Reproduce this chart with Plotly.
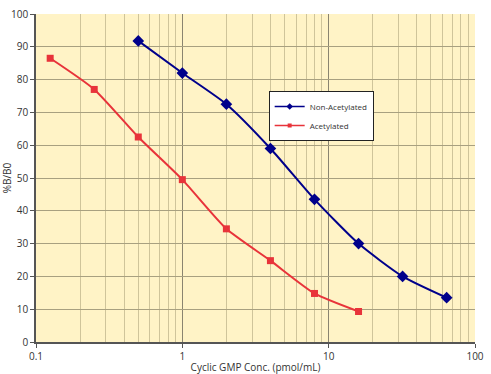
import plotly.graph_objects as go

non_x = [0.5, 1, 2, 4, 8, 16, 32, 64]
non_y = [91.8, 82.0, 72.5, 59.0, 43.5, 30.0, 20.0, 13.5]
ac_x = [0.125, 0.25, 0.5, 1, 2, 4, 8, 16]
ac_y = [86.5, 77.0, 62.5, 49.5, 34.5, 24.8, 14.8, 9.3]
x_ticks = [0.1, 1, 10, 100]
x_tick_labels = ["0.1", "1", "10", "100"]
y_ticks = [0, 10, 20, 30, 40, 50, 60, 70, 80, 90, 100]

BLUE = "#00008B"
RED = "#E8333A"

fig = go.Figure()
fig.add_trace(go.Scatter(x=non_x, y=non_y, mode="lines+markers", name="Non-Acetylated",
                         showlegend=False,
                         line=dict(color=BLUE, width=2, shape="spline", smoothing=0.6),
                         marker=dict(symbol="diamond", size=9, color=BLUE)))
fig.add_trace(go.Scatter(x=ac_x, y=ac_y, mode="lines+markers", name="Acetylated",
                         showlegend=False,
                         line=dict(color=RED, width=2, shape="spline", smoothing=0.6),
                         marker=dict(symbol="square", size=7, color=RED)))
# legend entries with smaller symbols, as in the reference
fig.add_trace(go.Scatter(x=[None], y=[None], mode="lines+markers", name="Non-Acetylated",
                         line=dict(color=BLUE, width=1.5),
                         marker=dict(symbol="diamond", size=5, color=BLUE)))
fig.add_trace(go.Scatter(x=[None], y=[None], mode="lines+markers", name="Acetylated",
                         line=dict(color=RED, width=1.5),
                         marker=dict(symbol="square", size=4, color=RED)))

fig.update_layout(
    width=491, height=374,
    margin=dict(l=36, r=16, t=14, b=32, autoexpand=False),
    paper_bgcolor="white", plot_bgcolor="#FFF3C6",
    font=dict(family="Open Sans", size=10, color="#333333"),
    showlegend=True,
    legend=dict(x=0.53, y=0.765, xanchor="left", yanchor="top",
                bgcolor="white", bordercolor="#222222", borderwidth=1,
                font=dict(size=8, color="#333333"), tracegroupgap=0,
                itemwidth=30, entrywidth=94),
)
fig.update_xaxes(type="log", range=[-1, 2], tickvals=x_ticks, ticktext=x_tick_labels,
                 automargin=False,
                 showgrid=True, gridcolor="#8A8470", gridwidth=1,
                 minor=dict(showgrid=True, gridcolor="#CFC49A", dtick="D1", ticks=""),
                 showline=True, linecolor="#555555", linewidth=1.5,
                 ticks="outside", ticklen=4, tickcolor="#555555",
                 title=dict(text="Cyclic GMP Conc. (pmol/mL)", standoff=2, font=dict(size=10)),
                 zeroline=False, mirror=False)
fig.update_yaxes(range=[0, 100], tickvals=y_ticks, showgrid=True, gridcolor="#A8A080",
                 automargin=False,
                 showline=True, linecolor="#555555", linewidth=1.5,
                 ticks="outside", ticklen=4, tickcolor="#555555",
                 title=dict(text="%B/B0", standoff=2, font=dict(size=10)),
                 zeroline=False)
fig.write_html("out.html", config={"displayModeBar": False},
               post_script="document.body.style.margin='0px';")
